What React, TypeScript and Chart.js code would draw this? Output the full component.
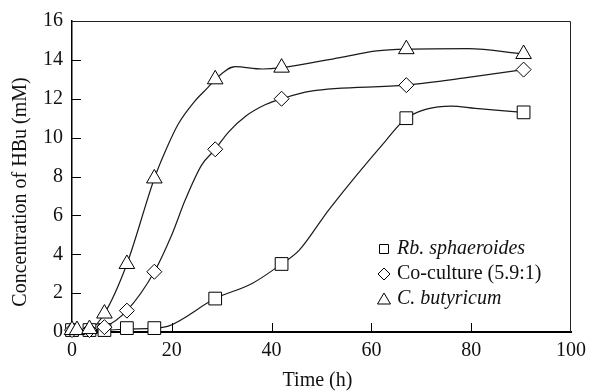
import React, { useEffect, useRef } from "react";
import { Chart, registerables } from "chart.js";

Chart.register(...registerables);

// ---------- data ----------
const xTickValues = [0, 20, 40, 60, 80, 100];
const yTickValues = [0, 2, 4, 6, 8, 10, 12, 14, 16];

const seriesNames = ["Rb. sphaeroides", "Co-culture (5.9:1)", "C. butyricum"];
const xTitle = "Time (h)";
const yTitle = "Concentration of HBu (mM)";

// measured points (markers)
const timeRb = [0, 3.5, 6.5, 11, 16.5, 28.7, 42, 67, 90.5];
const hbuRb = [0.1, 0.1, 0.1, 0.2, 0.2, 1.72, 3.5, 11.0, 11.3];

const timeCo = [0, 3.5, 6.5, 11, 16.5, 28.7, 42, 67, 90.5];
const hbuCo = [0.1, 0.1, 0.25, 1.1, 3.1, 9.4, 12.0, 12.7, 13.5];

const timeCb = [0, 1, 3.5, 6.5, 11, 16.5, 28.7, 42, 67, 90.5];
const hbuCb = [0.1, 0.1, 0.15, 0.95, 3.5, 7.9, 13.0, 13.6, 14.55, 14.3];

// traced smooth curves
const curveRbT = [0, 6.5, 11, 16.5, 19.3, 28.7, 36.1, 42, 45.5, 51.5, 62.9, 67, 76, 80.8, 90.5];
const curveRbV = [0.1, 0.1, 0.15, 0.2, 0.3, 1.72, 2.5, 3.5, 4.2, 6.3, 9.85, 11.0, 11.62, 11.5, 11.3];

const curveCoT = [0, 3.5, 6.5, 11, 16.5, 20, 22.7, 26, 28.7, 31.4, 34.8, 38.8, 42, 47.9, 67, 78.7, 90.5];
const curveCoV = [0.1, 0.1, 0.25, 1.1, 3.1, 5.0, 6.8, 8.6, 9.4, 10.3, 11.1, 11.7, 12.0, 12.39, 12.7, 13.07, 13.5];

const curveCbT = [0, 3.5, 6.5, 11, 16.5, 18.7, 21.3, 24.7, 27.3, 28.7, 32.7, 38.1, 42, 53.7, 61.1, 67, 79.4, 90.5];
const curveCbV = [0.1, 0.15, 0.95, 3.5, 7.9, 9.3, 10.7, 11.9, 12.6, 13.0, 13.65, 13.53, 13.6, 14.12, 14.46, 14.55, 14.58, 14.3];

const pts = (xs: number[], ys: number[]) => xs.map((x, i) => ({ x, y: ys[i] }));

const SERIF = "'Liberation Serif', 'Times New Roman', serif";

Chart.defaults.font.family = SERIF;

const framePlugin = {
  id: "frameAndLegend",
  afterDraw(chart: any) {
    const ctx: CanvasRenderingContext2D = chart.ctx;
    const { left, right, top, bottom } = chart.chartArea;
    const xs = chart.scales.x;
    const ys = chart.scales.y;
    ctx.save();
    // top & right frame
    ctx.strokeStyle = "#222";
    ctx.lineWidth = 1;
    ctx.beginPath();
    ctx.moveTo(left, top + 0.5);
    ctx.lineTo(right - 0.5, top + 0.5);
    ctx.lineTo(right - 0.5, bottom);
    ctx.stroke();
    // inward ticks
    ctx.strokeStyle = "#000";
    ctx.beginPath();
    yTickValues.forEach((v) => {
      if (v === 0 || v === 16) return;
      const py = Math.round(ys.getPixelForValue(v)) + 0.5;
      ctx.moveTo(left, py);
      ctx.lineTo(left + 9, py);
    });
    xTickValues.forEach((v) => {
      if (v === 0 || v === 100) return;
      const px = Math.round(xs.getPixelForValue(v)) + 0.5;
      ctx.moveTo(px, bottom);
      ctx.lineTo(px, bottom - 9);
    });
    ctx.stroke();

    // axis titles
    ctx.fillStyle = "#111";
    ctx.font = `20px ${SERIF}`;
    ctx.textAlign = "center";
    ctx.textBaseline = "middle";
    ctx.fillText(xTitle, (left + right) / 2 - 4, 381);
    ctx.save();
    ctx.translate(21, 192);
    ctx.rotate(-Math.PI / 2);
    ctx.fillText(yTitle, 0, 0);
    ctx.restore();

    // legend
    const lx = 384;
    const rows = [249, 274, 299];
    ctx.lineWidth = 1;
    ctx.strokeStyle = "#000";
    ctx.fillStyle = "#fff";
    ctx.beginPath();
    ctx.rect(lx - 4.5, rows[0] - 4.5, 9, 9);
    ctx.fill();
    ctx.stroke();
    ctx.beginPath();
    ctx.moveTo(lx, rows[1] - 6);
    ctx.lineTo(lx + 6, rows[1]);
    ctx.lineTo(lx, rows[1] + 6);
    ctx.lineTo(lx - 6, rows[1]);
    ctx.closePath();
    ctx.fill();
    ctx.stroke();
    ctx.beginPath();
    ctx.moveTo(lx, rows[2] - 6);
    ctx.lineTo(lx + 6.5, rows[2] + 5);
    ctx.lineTo(lx - 6.5, rows[2] + 5);
    ctx.closePath();
    ctx.fill();
    ctx.stroke();

    ctx.fillStyle = "#111";
    ctx.textAlign = "left";
    ctx.textBaseline = "alphabetic";
    ctx.font = `italic 20px ${SERIF}`;
    ctx.fillText(seriesNames[0], 397, rows[0] + 5);
    ctx.font = `20px ${SERIF}`;
    ctx.fillText(seriesNames[1], 397, rows[1] + 5);
    ctx.font = `italic 20px ${SERIF}`;
    ctx.fillText(seriesNames[2], 397, rows[2] + 5);
    ctx.restore();
  },
};

export default function App() {
  const ref = useRef<HTMLCanvasElement | null>(null);

  useEffect(() => {
    document.body.style.margin = "0";
    document.body.style.overflow = "hidden";
    const canvas = ref.current;
    if (!canvas) return;

    const curveStyle = {
      showLine: true,
      borderColor: "#1a1a1a",
      borderWidth: 1.2,
      pointRadius: 0,
      cubicInterpolationMode: "monotone" as const,
      order: 2,
      clip: false,
    };
    const markerStyle = {
      showLine: false,
      borderColor: "#000",
      backgroundColor: "#fff",
      pointBorderWidth: 1,
      order: 1,
      clip: false,
    };

    const chart = new Chart(canvas, {
      type: "scatter",
      data: {
        datasets: [
          { ...markerStyle, label: seriesNames[2], data: pts(timeCb, hbuCb), pointStyle: "triangle", pointRadius: 9 },
          { ...markerStyle, label: seriesNames[1], data: pts(timeCo, hbuCo), pointStyle: "rectRot", pointRadius: 7.5 },
          { ...markerStyle, label: seriesNames[0], data: pts(timeRb, hbuRb), pointStyle: "rect", pointRadius: 9 },
          { ...curveStyle, label: "curveRb", data: pts(curveRbT, curveRbV) },
          { ...curveStyle, label: "curveCo", data: pts(curveCoT, curveCoV) },
          { ...curveStyle, label: "curveCb", data: pts(curveCbT, curveCbV) },
        ] as any,
      },
      options: {
        responsive: false,
        animation: false,
        events: [],
        layout: { padding: { top: 20, right: 18, left: 0, bottom: 0 } },
        plugins: { legend: { display: false }, tooltip: { enabled: false } },
        scales: {
          x: {
            type: "linear",
            min: 0,
            max: 100,
            afterFit: (s: any) => {
              s.height = 60;
            },
            afterBuildTicks: (s: any) => {
              s.ticks = xTickValues.map((v) => ({ value: v }));
            },
            ticks: {
              color: "#111",
              font: { family: SERIF, size: 20 },
              padding: 7,
              maxRotation: 0,
            },
            grid: { drawOnChartArea: false, drawTicks: false },
            border: { display: true, color: "#000", width: 2 },
          },
          y: {
            type: "linear",
            min: 0,
            max: 16,
            afterFit: (s: any) => {
              s.width = 72;
            },
            afterBuildTicks: (s: any) => {
              s.ticks = yTickValues.map((v) => ({ value: v }));
            },
            ticks: {
              color: "#111",
              font: { family: SERIF, size: 20 },
              padding: 9,
            },
            grid: { drawOnChartArea: false, drawTicks: false },
            border: { display: true, color: "#000", width: 1.5 },
          },
        },
      },
      plugins: [framePlugin],
    });
    return () => chart.destroy();
  }, []);

  return (
    <canvas
      ref={ref}
      width={593}
      height={392}
      style={{ display: "block", width: 593, height: 392, background: "#fff" }}
    />
  );
}
